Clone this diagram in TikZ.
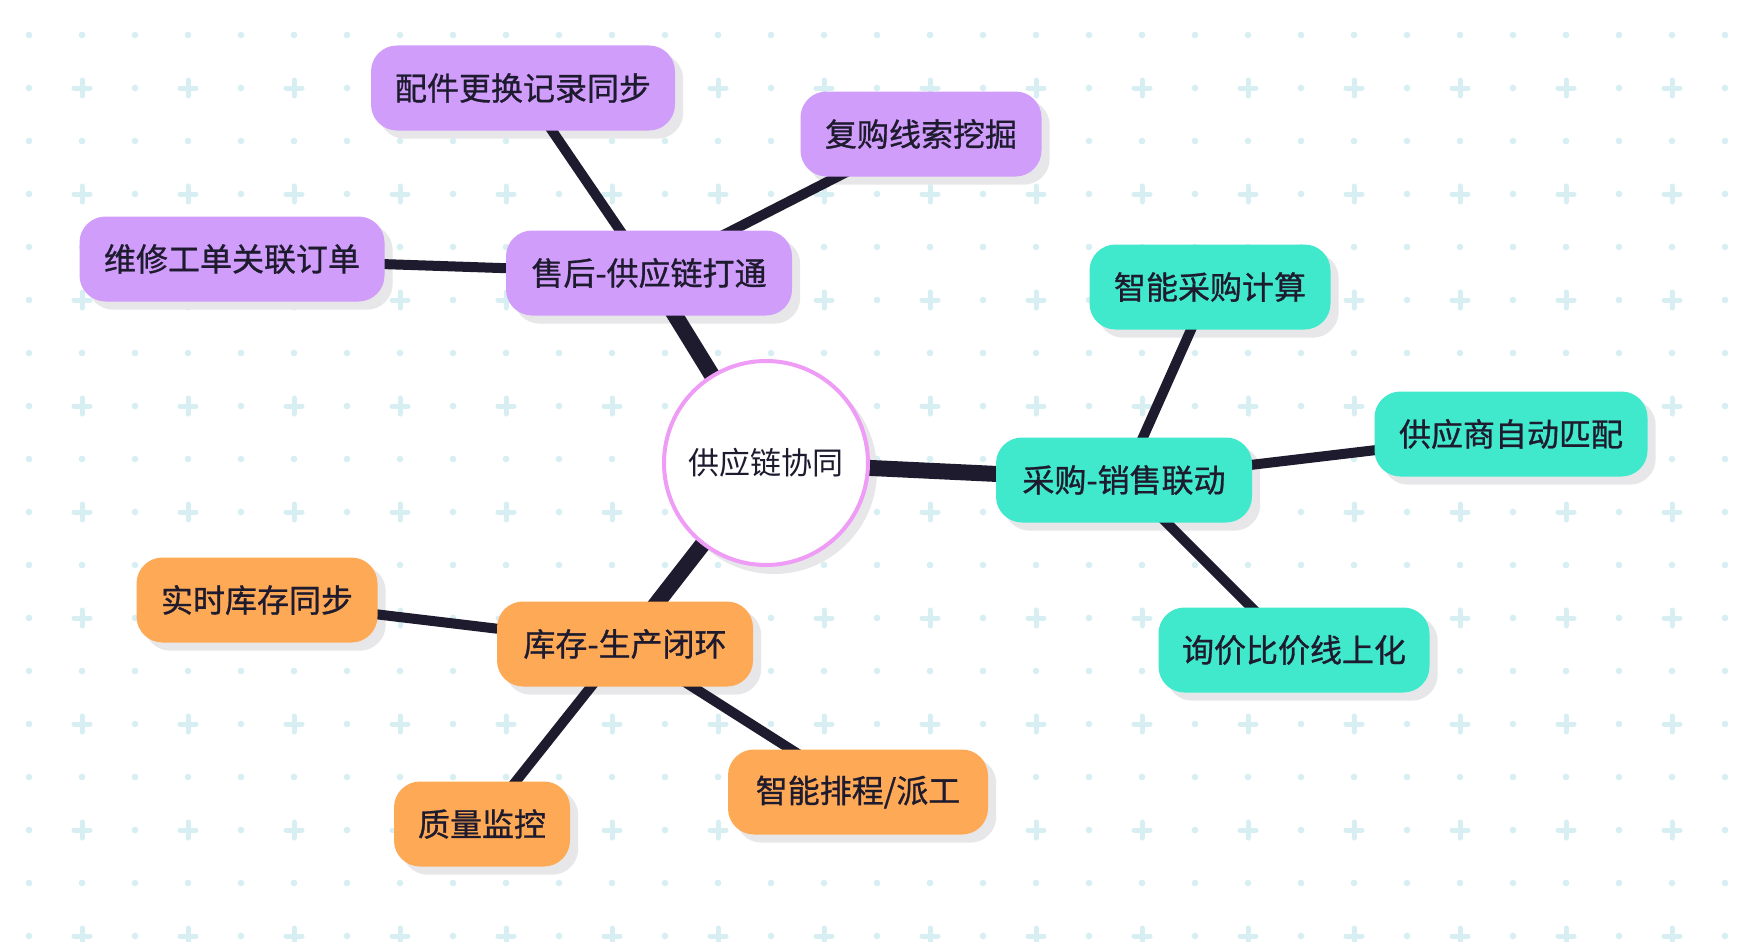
\documentclass[tikz,border=0pt]{standalone}
\usepackage{fontspec}
\newfontfamily\cjk{Noto Sans CJK SC}
\newfontfamily\cjkm[FakeBold=0.9]{Noto Sans CJK SC}
\definecolor{ink}{HTML}{1E1B2F}
\definecolor{purp}{HTML}{D09DFB}
\definecolor{teal}{HTML}{41E9CC}
\definecolor{orng}{HTML}{FEA956}
\definecolor{pinkc}{HTML}{EE9CF6}
\definecolor{gridc}{HTML}{D7EEF2}
\definecolor{shadowc}{HTML}{E7E7E9}
\pgfdeclarelayer{gridlayer}
\pgfdeclarelayer{shadlayer}
\pgfdeclarelayer{edgelayer}
\pgfsetlayers{gridlayer,shadlayer,edgelayer,main}
\tikzset{
  box/.style={rectangle, rounded corners=26pt, minimum height=85pt, inner sep=0pt,
    font=\cjkm\fontsize{32}{38}\selectfont, text=ink},
  pbox/.style={box, fill=purp},
  tbox/.style={box, fill=teal},
  obox/.style={box, fill=orng},
  primary/.style={draw=ink, line width=16pt},
  secondary/.style={draw=ink, line width=10pt},
  shad/.style={fill=shadowc, rounded corners=26pt},
}
\begin{document}
\begin{tikzpicture}[x=1pt,y=-1pt]
\useasboundingbox (0,0) rectangle (1740,942);
% grid
\begin{pgfonlayer}{gridlayer}
\fill[white] (0,0) rectangle (1740,942);
\foreach \i in {0,...,32}{
  \foreach \j in {0,...,17}{
    \pgfmathsetmacro\gx{29+53*\i}
    \pgfmathsetmacro\gy{35+53*\j}
    \pgfmathtruncatemacro\pl{mod(\i,2)*mod(\j,2)}
    \ifnum\pl=1
      \draw[gridc, line width=5pt, line cap=round] (\gx-8,\gy) -- (\gx+8,\gy) (\gx,\gy-8) -- (\gx,\gy+8);
    \else
      \fill[gridc] (\gx,\gy) circle (3.3);
    \fi
  }
}
\end{pgfonlayer}
% nodes
\node[circle, draw=pinkc, line width=4pt, fill=white, minimum size=204pt, inner sep=0pt,
  font=\cjk\fontsize{31}{38}\selectfont, text=ink] (c) at (766,463) {供应链协同};

\node[pbox, minimum width=286pt] (sh) at (649,273) {售后-供应链打通};
\node[pbox, minimum width=304pt] (pj) at (523,88) {配件更换记录同步};
\node[pbox, minimum width=241pt] (fg) at (921,134) {复购线索挖掘};
\node[pbox, minimum width=305pt] (wx) at (232,259) {维修工单关联订单};

\node[tbox, minimum width=256pt] (cg) at (1124,480) {采购-销售联动};
\node[tbox, minimum width=241pt] (zn) at (1210,287) {智能采购计算};
\node[tbox, minimum width=273pt] (gy) at (1511,434) {供应商自动匹配};
\node[tbox, minimum width=271pt] (xj) at (1294,650) {询价比价线上化};

\node[obox, minimum width=256pt] (kc) at (625,644) {库存-生产闭环};
\node[obox, minimum width=241pt] (ss) at (257,600) {实时库存同步};
\node[obox, minimum width=176pt] (zl) at (482,824) {质量监控};
\node[obox, minimum width=260pt] (pc) at (858,792) {智能排程/派工};

% shadows
\begin{pgfonlayer}{shadlayer}
\fill[shadowc] ([shift={(8,8)}]c.center) circle (103);
\foreach \n in {sh,pj,fg,wx,cg,zn,gy,xj,kc,ss,zl,pc}{
  \fill[shad] ([shift={(8,8)}]\n.north west) rectangle ([shift={(8,8)}]\n.south east);
}
\end{pgfonlayer}
% edges
\begin{pgfonlayer}{edgelayer}
\draw[primary] (c.center) -- (sh.center);
\draw[primary] (c.center) -- (cg.center);
\draw[primary] (c.center) -- (kc.center);
\draw[secondary] (sh.center) -- (pj.center);
\draw[secondary] (sh.center) -- (fg.center);
\draw[secondary] (sh.center) -- (wx.center);
\draw[secondary] (cg.center) -- (zn.center);
\draw[secondary] (cg.center) -- (gy.center);
\draw[secondary] (cg.center) -- (xj.center);
\draw[secondary] (kc.center) -- (ss.center);
\draw[secondary] (kc.center) -- (zl.center);
\draw[secondary] (kc.center) -- (pc.center);
\end{pgfonlayer}
\end{tikzpicture}
\end{document}
